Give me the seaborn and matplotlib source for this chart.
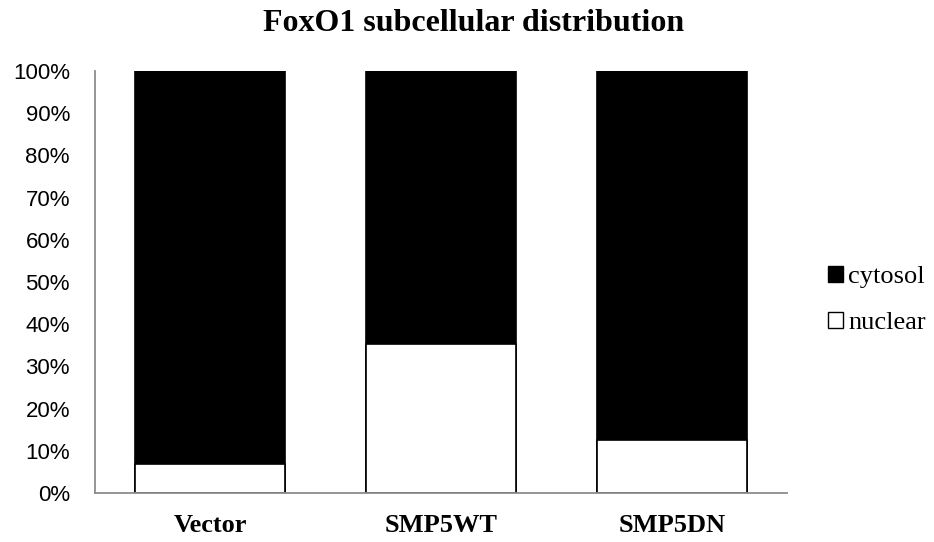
import pandas as pd
import matplotlib.pyplot as plt
import seaborn as sns
from matplotlib.patches import Patch
from matplotlib.ticker import PercentFormatter

# Data (percent of cells)
groups = ['Vector', 'SMP5WT', 'SMP5DN']
nuclear = [6.9, 35.4, 12.5]
cytosol = [100 - v for v in nuclear]

df = pd.DataFrame({'group': groups, 'nuclear': nuclear, 'cytosol': cytosol})
df['total'] = df['nuclear'] + df['cytosol']

sns.set_style('white')
plt.rcParams['text.color'] = 'black'
plt.rcParams['xtick.color'] = 'black'
plt.rcParams['ytick.color'] = 'black'

fig = plt.figure(figsize=(9.34, 5.42), dpi=100)
ax = fig.add_axes([0.1017, 0.0904, 0.741, 0.7786])

# stacked bars: full height black (cytosol on top), nuclear white drawn over bottom
sns.barplot(data=df, x='group', y='total', color='black', width=0.65,
            edgecolor='black', linewidth=1.2, saturation=1, ax=ax)
sns.barplot(data=df, x='group', y='nuclear', color='white', width=0.65,
            edgecolor='black', linewidth=1.2, saturation=1, ax=ax)

ax.set_ylim(0, 100)
ax.set_xlim(-0.5, 2.5)
ax.set_yticks(range(0, 101, 10))
ax.yaxis.set_major_formatter(PercentFormatter(decimals=0))
ax.set_xlabel('')
ax.set_ylabel('')

for s in ['top', 'right']:
    ax.spines[s].set_visible(False)
for s in ['left', 'bottom']:
    ax.spines[s].set_color('#8c8c8c')
    ax.spines[s].set_linewidth(1.3)

ax.tick_params(axis='y', labelsize=16, pad=18, length=0, labelcolor='black')
ax.tick_params(axis='x', length=0, pad=15, labelcolor='black')
for lab in ax.get_yticklabels():
    lab.set_family('Liberation Sans')
for lab in ax.get_xticklabels():
    lab.set_family('Liberation Serif')
    lab.set_fontweight('bold')
    lab.set_fontsize(19)

fig.text(0.507, 0.943, 'FoxO1 subcellular distribution', ha='center', va='baseline',
         fontsize=23, fontweight='bold', family='Liberation Serif', color='black')

handles = [Patch(facecolor='black', edgecolor='black', label='cytosol'),
           Patch(facecolor='white', edgecolor='black', label='nuclear')]
fig.legend(handles=handles, loc='center left', bbox_to_anchor=(0.8865, 0.4465),
           frameon=False, borderpad=0, borderaxespad=0, labelcolor='black',
           prop={'family': 'Liberation Serif', 'size': 19},
           handlelength=0.57, handleheight=0.57, handletextpad=0.2, labelspacing=0.9)

plt.savefig('out.png', dpi=100)
